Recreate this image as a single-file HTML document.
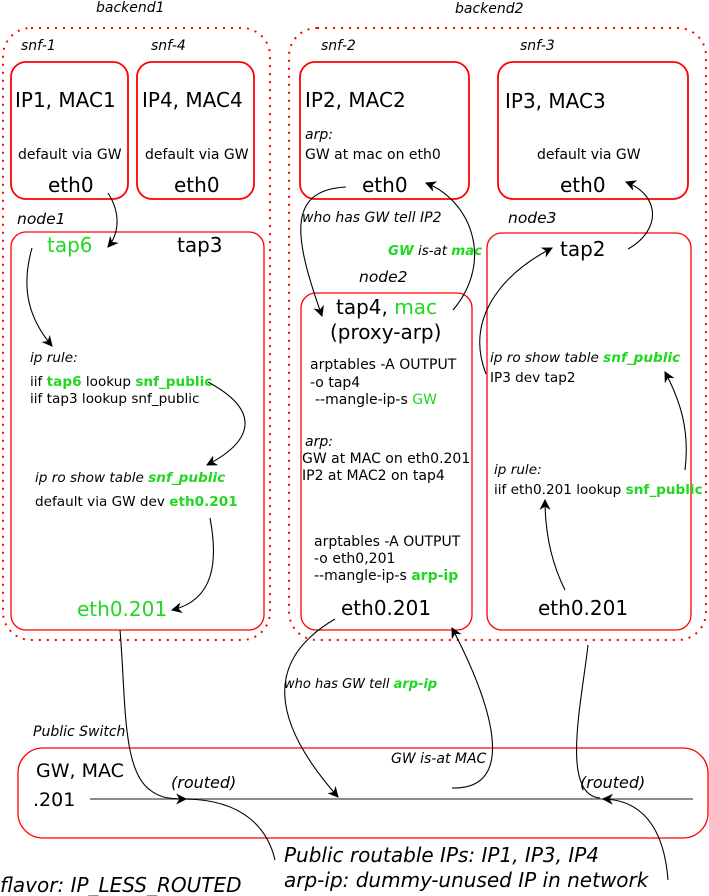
<!DOCTYPE html>
<html><head><meta charset="utf-8"><style>
html,body{margin:0;padding:0;background:#fff;}
svg{display:block;font-family:"DejaVu Sans","Liberation Sans",sans-serif;}
.i{font-style:italic}
.g{fill:#1fd81f}
.b{font-weight:bold}
</style></head><body>
<svg width="709" height="896" viewBox="0 0 709 896" xmlns="http://www.w3.org/2000/svg">
<defs>
<marker id="a" viewBox="0 0 10 10" refX="9" refY="5" markerWidth="11" markerHeight="11" orient="auto" markerUnits="userSpaceOnUse">
<path d="M0,0 L10,5 L0,10 L3,5 z" fill="#000"/></marker>
</defs>
<g fill="none" stroke="#f00" stroke-width="2" stroke-dasharray="2,6">
<rect x="3" y="28" width="267" height="612" rx="28"/>
<rect x="289" y="28" width="417" height="612" rx="28"/>
</g>
<g fill="none" stroke="#f00" stroke-width="1.8">
<rect x="11" y="62" width="117" height="137" rx="15"/>
<rect x="137" y="62" width="117" height="137" rx="15"/>
<rect x="300" y="62" width="169" height="137" rx="15"/>
<rect x="498" y="62" width="190" height="137" rx="15"/>
</g>
<g fill="none" stroke="#f00" stroke-width="1.3">
<rect x="11" y="232" width="253" height="398" rx="15"/>
<rect x="301" y="293" width="171" height="337" rx="15"/>
<rect x="487" y="233" width="204" height="397" rx="15"/>
<rect x="18" y="748" width="690" height="90" rx="25"/>
</g>
<line x1="90" y1="799" x2="693" y2="799" stroke="#666" stroke-width="1.6"/>

<g font-size="14" class="i">
<text x="96" y="12">backend1</text>
<text x="455" y="13">backend2</text>
<text x="21" y="50">snf-1</text>
<text x="151" y="50">snf-4</text>
<text x="321" y="50">snf-2</text>
<text x="520" y="50">snf-3</text>
</g>
<g font-size="15.5" class="i">
<text x="17" y="224">node1</text>
<text x="508" y="223">node3</text>
<text x="359" y="282">node2</text>
</g>
<g font-size="20">
<text x="15" y="107">IP1, MAC1</text>
<text x="142" y="107">IP4, MAC4</text>
<text x="305" y="107">IP2, MAC2</text>
<text x="505" y="108">IP3, MAC3</text>
<text x="48" y="192">eth0</text>
<text x="174" y="192">eth0</text>
<text x="362" y="192">eth0</text>
<text x="560" y="192">eth0</text>
<text x="47" y="252" class="g">tap6</text>
<text x="177" y="252">tap3</text>
<text x="560" y="256">tap2</text>
<text x="336" y="314">tap4, <tspan class="g">mac</tspan></text>
<text x="330" y="339">(proxy-arp)</text>
<text x="77" y="616" class="g">eth0.201</text>
<text x="341" y="615">eth0.201</text>
<text x="538" y="615">eth0.201</text>
<text x="36" y="777" font-size="19">GW, MAC</text>
<text x="33" y="806" font-size="19">.201</text>
</g>
<g font-size="14">
<text x="18" y="159">default via GW</text>
<text x="145" y="159">default via GW</text>
<text x="537" y="159">default via GW</text>
<text x="305" y="139" class="i">arp:</text>
<text x="305" y="159">GW at mac on eth0</text>
<text x="302" y="222" class="i">who has GW tell IP2</text>
<text x="388" y="255" class="i" font-size="13.4"><tspan class="g b">GW</tspan> is-at <tspan class="g b">mac</tspan></text>
</g>
<g font-size="14">
<text x="310" y="369">arptables -A OUTPUT</text>
<text x="310" y="387">-o tap4</text>
<text x="315" y="404">--mangle-ip-s <tspan class="g">GW</tspan></text>
<text x="305" y="446" class="i">arp:</text>
<text x="302" y="463">GW at MAC on eth0.201</text>
<text x="302" y="480">IP2 at MAC2 on tap4</text>
<text x="314" y="546">arptables -A OUTPUT</text>
<text x="314" y="563">-o eth0,201</text>
<text x="314" y="580">--mangle-ip-s <tspan class="g b">arp-ip</tspan></text>
</g>
<g font-size="13.6">
<text x="490" y="362" class="i">ip ro show table <tspan class="g b">snf_public</tspan></text>
<text x="490" y="382">IP3 dev tap2</text>
<text x="494" y="474" class="i">ip rule:</text>
<text x="494" y="494">iif eth0.201 lookup <tspan class="g b">snf_public</tspan></text>
<text x="30" y="362" class="i">ip rule:</text>
<text x="30" y="386">iif <tspan class="g b">tap6</tspan> lookup <tspan class="g b">snf_public</tspan></text>
<text x="30" y="403">iif tap3 lookup snf_public</text>
<text x="35" y="482" class="i">ip ro show table <tspan class="g b">snf_public</tspan></text>
<text x="35" y="506">default via GW dev <tspan class="g b">eth0.201</tspan></text>
<text x="284" y="688" class="i" font-size="13">who has GW tell <tspan class="g b">arp-ip</tspan></text>
<text x="171" y="788" class="i" font-size="16">(routed)</text>
<text x="580" y="788" class="i" font-size="16">(routed)</text>
</g>
<g font-size="14" class="i">
<text x="391" y="763">GW is-at MAC</text>
<text x="33" y="736">Public Switch</text>
</g>
<g font-size="20" class="i">
<text x="284" y="862">Public routable IPs: IP1, IP3, IP4</text>
<text x="284" y="887">arp-ip: dummy-unused IP in network</text>
<text x="0" y="892">flavor: IP_LESS_ROUTED</text>
</g>

<g fill="none" stroke="#000" stroke-width="1.1">
<path d="M108,193 C122,215 118,235 108,247" marker-end="url(#a)"/>
<path d="M32,248 C20,290 30,320 52,346" marker-end="url(#a)"/>
<path d="M208,382 C260,410 255,440 207,465" marker-end="url(#a)"/>
<path d="M210,518 C218,560 215,600 172,610" marker-end="url(#a)"/>
<path d="M120,630 C126,700 122,770 150,790 C160,798 170,799 186,799" marker-end="url(#a)"/>
<path d="M186,799 C245,800 268,830 275,860"/>
<path d="M346,187 C285,190 295,240 322,316" marker-end="url(#a)"/>
<path d="M453,310 C495,260 470,200 426,183" marker-end="url(#a)"/>
<path d="M486,374 C465,320 500,275 552,248" marker-end="url(#a)"/>
<path d="M628,249 C662,230 660,195 626,182" marker-end="url(#a)"/>
<path d="M685,470 C690,430 680,400 665,372" marker-end="url(#a)"/>
<path d="M565,590 C550,560 545,530 545,500" marker-end="url(#a)"/>
<path d="M335,619 C265,660 270,720 338,797" marker-end="url(#a)"/>
<path d="M452,788 C520,790 490,700 452,628" marker-end="url(#a)"/>
<path d="M588,645 C582,700 560,795 600,798"/>
<path d="M668,880 C665,840 650,800 603,799" marker-end="url(#a)"/>
</g>
</svg>
</body></html>
